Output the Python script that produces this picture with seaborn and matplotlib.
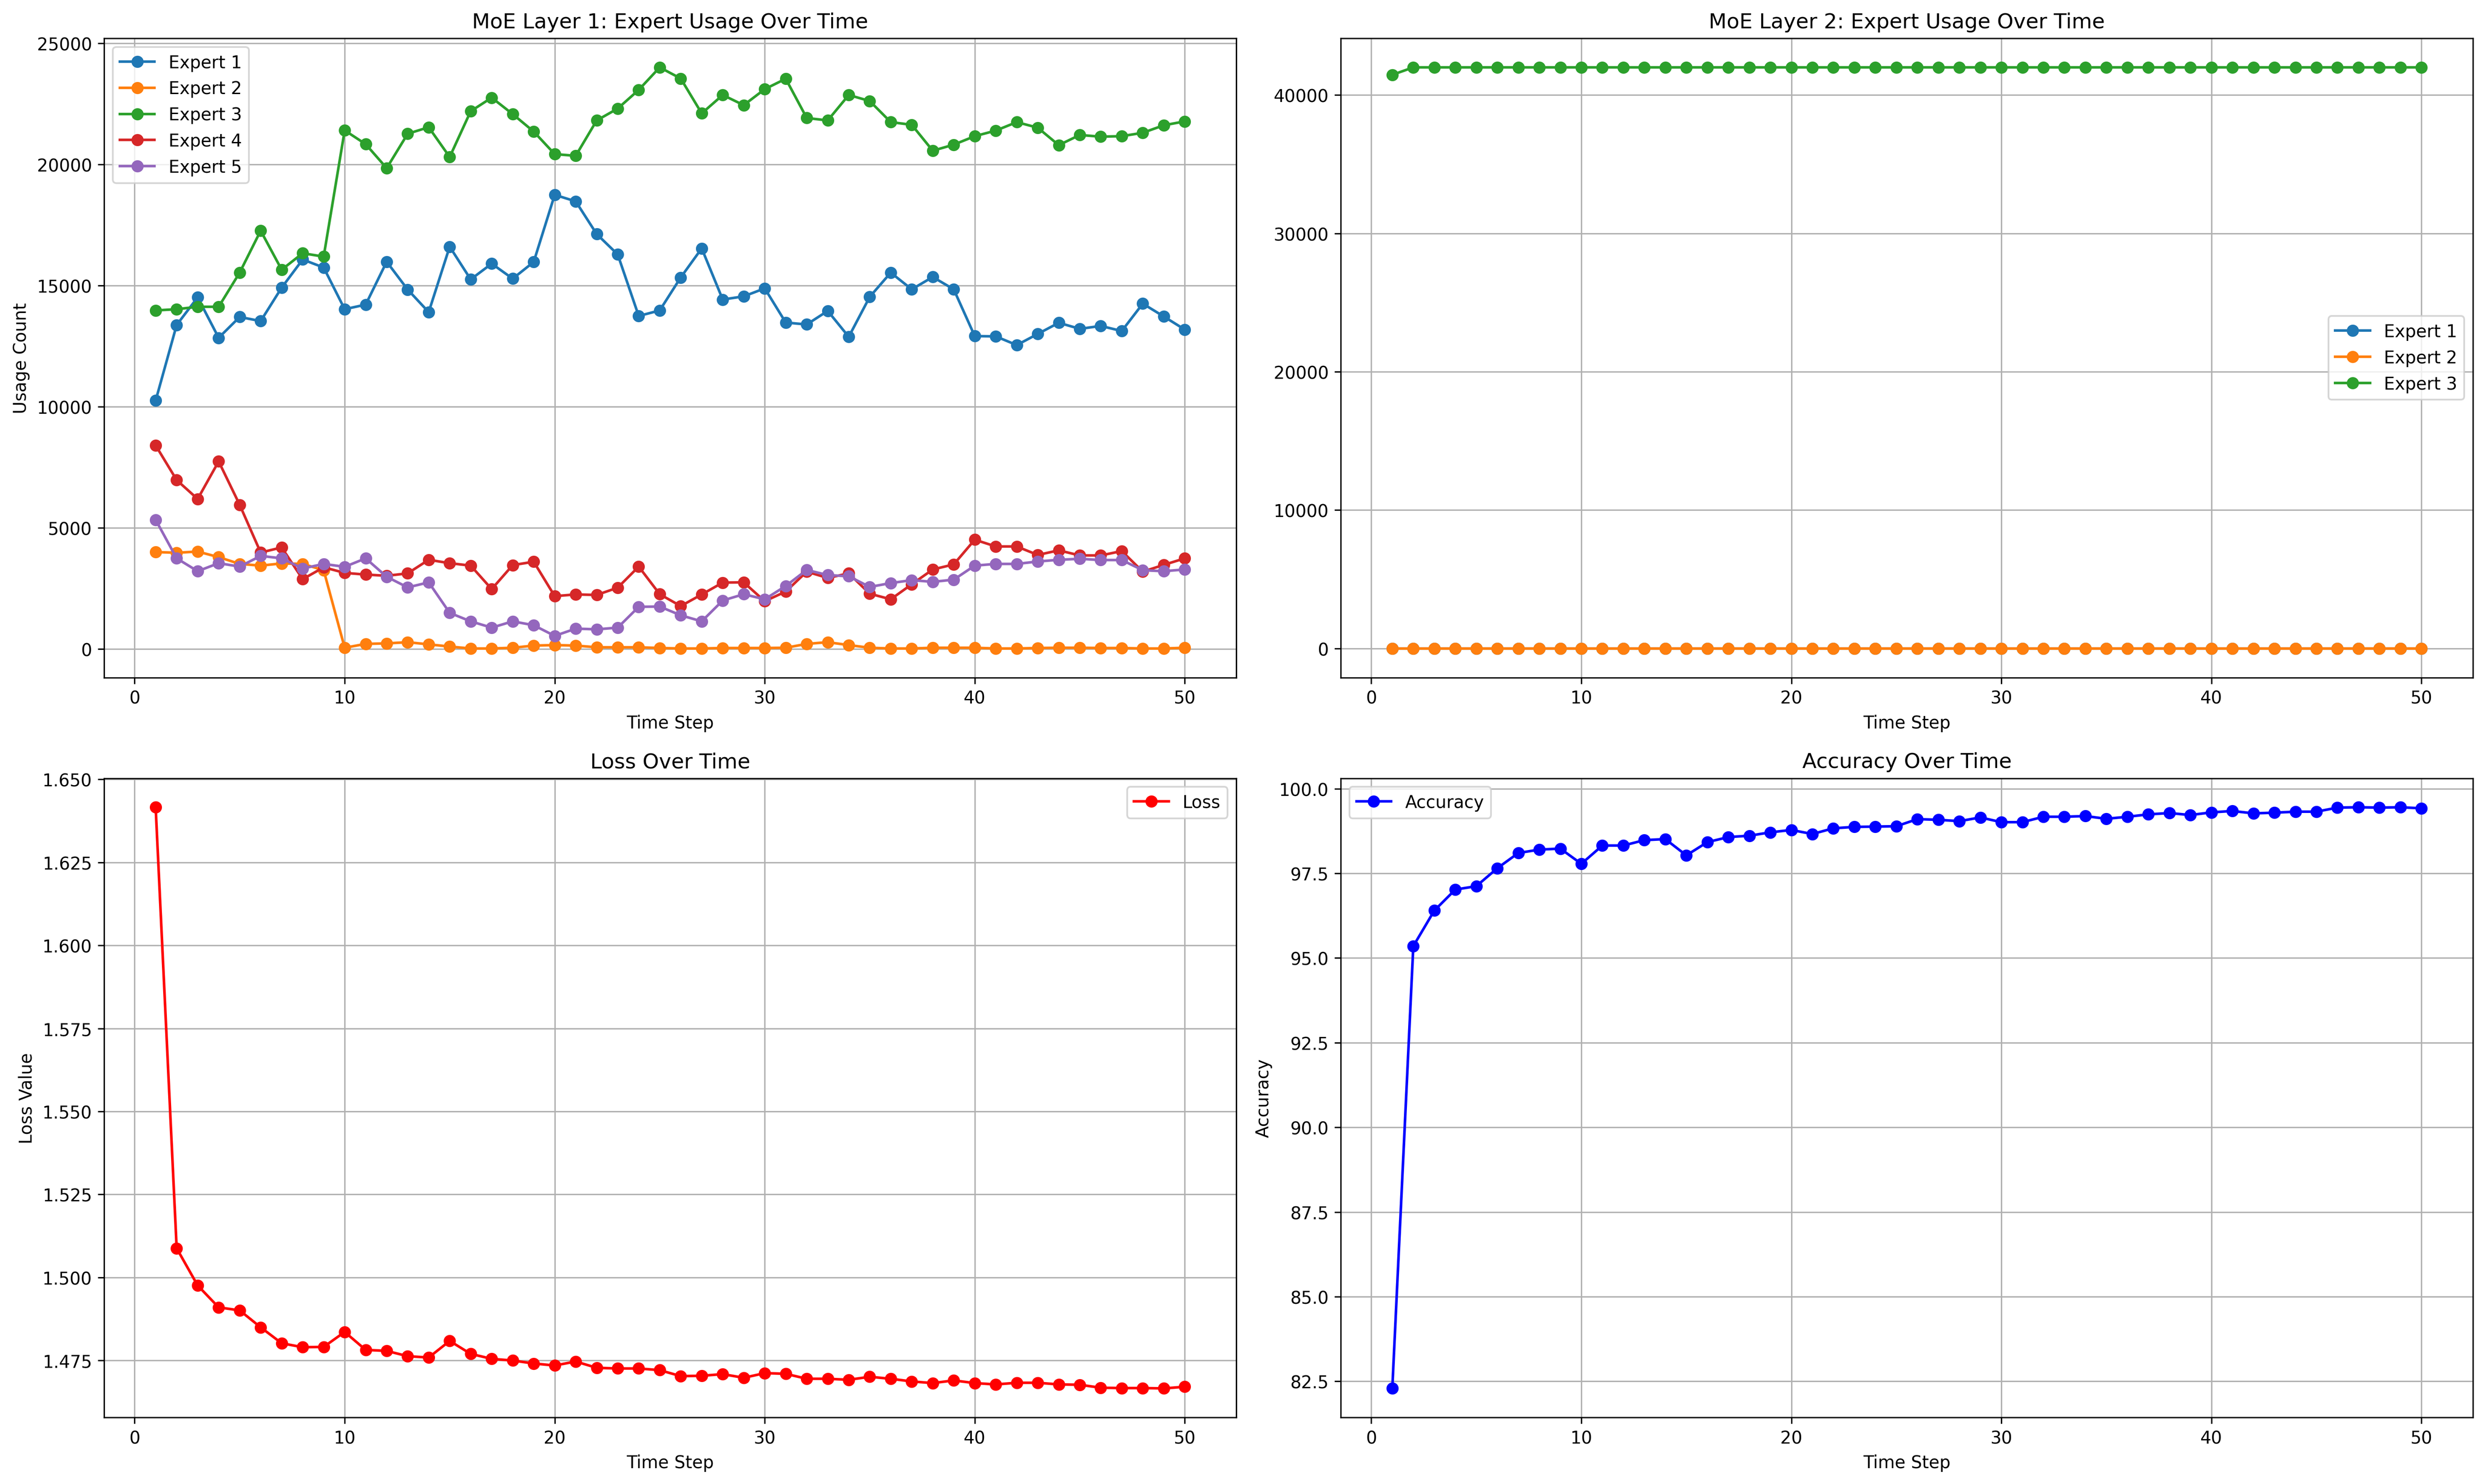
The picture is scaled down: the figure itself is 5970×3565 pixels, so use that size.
import numpy as np
import pandas as pd
import matplotlib
matplotlib.use("Agg")
import matplotlib.pyplot as plt
import seaborn as sns

# values
steps = list(range(1, 51))

layer1_expert1 = [10250, 13370, 14510, 12840, 13700, 13530, 14910, 16070, 15740, 14020,
                  14210, 15980, 14830, 13900, 16600, 15250, 15900, 15280, 15970, 18740,
                  18470, 17120, 16280, 13740, 13970, 15330, 16530, 14420, 14550, 14880,
                  13470, 13390, 13950, 12880, 14530, 15530, 14840, 15350, 14840, 12910,
                  12900, 12540, 13000, 13460, 13210, 13330, 13120, 14250, 13720, 13180]
layer1_expert2 = [4000, 3970, 4020, 3790, 3510, 3440, 3530, 3510, 3250, 50,
                  210, 230, 280, 190, 100, 20, 20, 50, 140, 160,
                  140, 70, 70, 70, 40, 20, 20, 40, 40, 40,
                  50, 210, 280, 160, 50, 20, 20, 50, 50, 50,
                  20, 20, 40, 50, 50, 40, 40, 20, 20, 50]
layer1_expert3 = [13970, 14020, 14120, 14120, 15530, 17260, 15650, 16330, 16190, 21400,
                  20830, 19840, 21260, 21530, 20300, 22190, 22750, 22070, 21350, 20420,
                  20350, 21810, 22300, 23070, 24000, 23540, 22100, 22860, 22440, 23100,
                  23530, 21910, 21810, 22860, 22610, 21740, 21630, 20560, 20810, 21160,
                  21390, 21740, 21510, 20790, 21210, 21140, 21160, 21300, 21610, 21770]
layer1_expert4 = [8400, 6970, 6190, 7740, 5950, 3980, 4190, 2880, 3370, 3140,
                  3070, 3020, 3120, 3680, 3540, 3440, 2470, 3460, 3600, 2180,
                  2250, 2230, 2530, 3400, 2260, 1770, 2250, 2740, 2750, 1970,
                  2370, 3190, 2930, 3120, 2280, 2050, 2670, 3280, 3490, 4510,
                  4230, 4230, 3880, 4070, 3860, 3860, 4040, 3190, 3470, 3740]
layer1_expert5 = [5330, 3740, 3210, 3540, 3400, 3840, 3740, 3320, 3510, 3390,
                  3740, 2980, 2540, 2750, 1490, 1140, 880, 1140, 980, 540,
                  840, 810, 880, 1740, 1750, 1390, 1140, 2000, 2260, 2050,
                  2600, 3260, 3050, 3000, 2560, 2720, 2840, 2770, 2860, 3440,
                  3510, 3510, 3610, 3680, 3720, 3670, 3670, 3250, 3210, 3280]

layer2_expert1 = [0] * 50
layer2_expert2 = [0] * 50
layer2_expert3 = [41460] + [42000] * 49

loss = [1.6416, 1.5088, 1.4976, 1.4910, 1.4901, 1.4850, 1.4802, 1.4790, 1.4791, 1.4836,
        1.4782, 1.4779, 1.4763, 1.4759, 1.4809, 1.4770, 1.4755, 1.4750, 1.4741, 1.4735,
        1.4747, 1.4728, 1.4726, 1.4726, 1.4721, 1.4703, 1.4704, 1.4709, 1.4698, 1.4712,
        1.4710, 1.4695, 1.4695, 1.4692, 1.4701, 1.4695, 1.4687, 1.4682, 1.4690, 1.4682,
        1.4678, 1.4683, 1.4683, 1.4678, 1.4677, 1.4668, 1.4667, 1.4667, 1.4666, 1.4671]

accuracy = [82.29, 95.35, 96.40, 97.02, 97.12, 97.65, 98.10, 98.20, 98.23, 97.78,
            98.32, 98.32, 98.48, 98.51, 98.03, 98.42, 98.57, 98.61, 98.71, 98.78,
            98.66, 98.83, 98.87, 98.88, 98.89, 99.10, 99.08, 99.04, 99.15, 99.01,
            99.01, 99.17, 99.17, 99.19, 99.11, 99.17, 99.24, 99.28, 99.22, 99.30,
            99.34, 99.27, 99.29, 99.32, 99.32, 99.44, 99.45, 99.44, 99.45, 99.42]


def draw_line(ax, y, label, color):
    sns.lineplot(x=steps, y=y, ax=ax, label=label, color=color, marker='o',
                 markersize=6, markeredgecolor=color, markeredgewidth=1.0)


fig, axes = plt.subplots(2, 2, figsize=(20, 12))

# MoE layer 1
ax = axes[0, 0]
layer1 = [layer1_expert1, layer1_expert2, layer1_expert3, layer1_expert4, layer1_expert5]
for i, vals in enumerate(layer1):
    draw_line(ax, vals, f'Expert {i + 1}', f'C{i}')
ax.set_title('MoE Layer 1: Expert Usage Over Time')
ax.set_xlabel('Time Step')
ax.set_ylabel('Usage Count')
ax.legend(loc='upper left')
ax.grid(True)

# MoE layer 2
ax = axes[0, 1]
layer2 = [layer2_expert1, layer2_expert2, layer2_expert3]
for i, vals in enumerate(layer2):
    draw_line(ax, vals, f'Expert {i + 1}', f'C{i}')
ax.set_title('MoE Layer 2: Expert Usage Over Time')
ax.set_xlabel('Time Step')
ax.legend(loc='center right')
ax.grid(True)

# loss
ax = axes[1, 0]
draw_line(ax, loss, 'Loss', 'red')
ax.set_title('Loss Over Time')
ax.set_xlabel('Time Step')
ax.set_ylabel('Loss Value')
ax.legend(loc='upper right')
ax.grid(True)

# accuracy
ax = axes[1, 1]
draw_line(ax, accuracy, 'Accuracy', 'blue')
ax.set_title('Accuracy Over Time')
ax.set_xlabel('Time Step')
ax.set_ylabel('Accuracy')
ax.legend(loc='upper left')
ax.grid(True)

plt.tight_layout()
plt.savefig('out.png', dpi=300, bbox_inches='tight')
